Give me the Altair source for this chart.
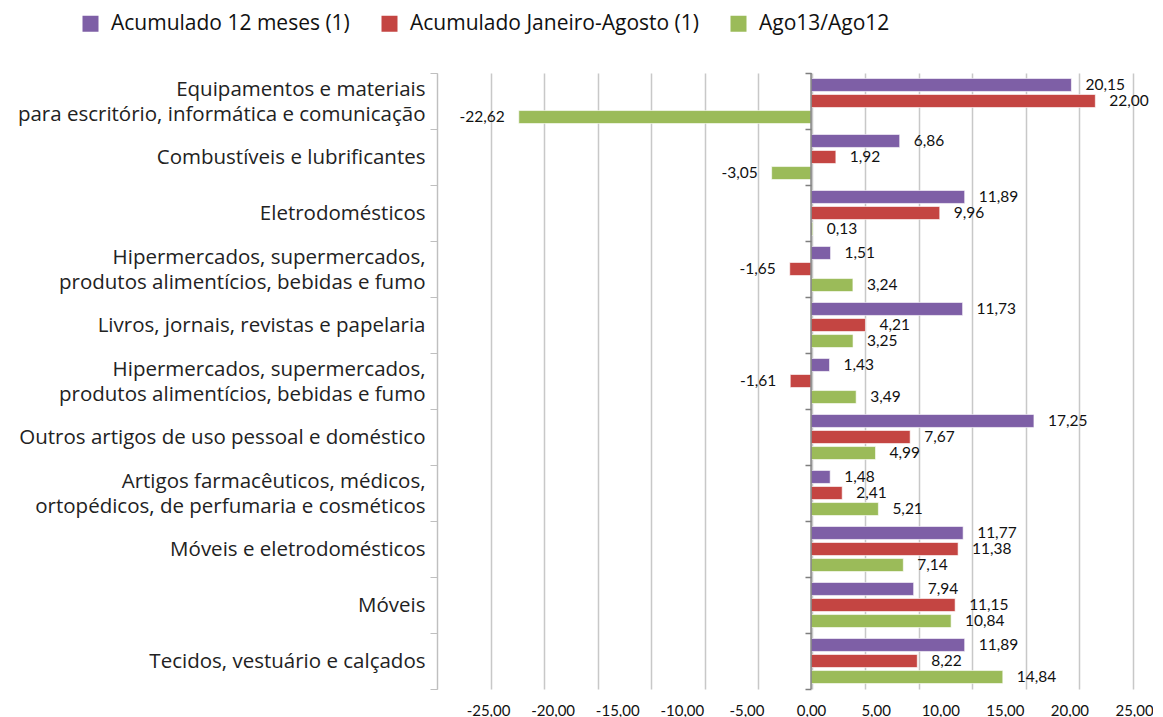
import altair as alt
import pandas as pd

FONT = "Lato"
CAT_FONT = "Open Sans"

categories = [
    "Equipamentos e materiais|para escritório, informática e comunicação",
    "Combustíveis e lubrificantes",
    "Eletrodomésticos",
    "Hipermercados, supermercados,|produtos alimentícios, bebidas e fumo",
    "Livros, jornais, revistas e papelaria",
    "Hipermercados, supermercados,|produtos alimentícios, bebidas e fumo\u200b",
    "Outros artigos de uso pessoal e doméstico",
    "Artigos farmacêuticos, médicos,|ortopédicos, de perfumaria e cosméticos",
    "Móveis e eletrodomésticos",
    "Móveis",
    "Tecidos, vestuário e calçados",
]
series = ["Acumulado 12 meses (1)", "Acumulado Janeiro-Agosto (1)", "Ago13/Ago12"]
acum_12 = [20.15, 6.86, 11.89, 1.51, 11.73, 1.43, 17.25, 1.48, 11.77, 7.94, 11.89]
acum_jan_ago = [22.00, 1.92, 9.96, -1.65, 4.21, -1.61, 7.67, 2.41, 11.38, 11.15, 8.22]
ago13_ago12 = [-22.62, -3.05, 0.13, 3.24, 3.25, 3.49, 4.99, 5.21, 7.14, 10.84, 14.84]
colors = ["#7E5FA6", "#C44542", "#9BBB59"]
zero_line = [0]

rows = []
for i, cat in enumerate(categories):
    for s, vals in zip(series, [acum_12, acum_jan_ago, ago13_ago12]):
        v = vals[i]
        rows.append({"cat": cat, "serie": s, "value": v,
                     "label": f"{v:.2f}".replace(".", ",")})
df = pd.DataFrame(rows)

y_scale = alt.Scale(paddingInner=0, paddingOuter=0)
x_main = alt.Scale(domain=[-28.95, 26.0], nice=False, zero=False)
yoff = alt.YOffset("serie:N", sort=series,
                   scale=alt.Scale(paddingInner=0.19, paddingOuter=0.34))

base = alt.Chart(df)

two_line_offset = {"condition": {"test": "isString(datum.value) && indexof(datum.value, '|') >= 0",
                                 "value": -12}, "value": 0}

bars = base.mark_bar(stroke="white", strokeOpacity=0.6, strokeWidth=1).encode(
    x=alt.X("value:Q", scale=x_main,
            axis=alt.Axis(title=None, grid=False, ticks=False, domain=False,
                          tickCount=11, labelFontSize=15, labelFont=FONT,
                          labelColor="#111", labelPadding=14,
                          labelExpr="(datum.value < 0 ? '-' : '') + replace(format(abs(datum.value), '.2f'), '.', ',')")),
    y=alt.Y("cat:N", sort=categories, scale=y_scale,
            axis=alt.Axis(orient="left", title=None,
                          labelExpr="isString(datum.value) ? split(datum.value, '|') : ''",
                          labelFontSize=20.5, labelFont=CAT_FONT, labelColor="#222",
                          labelLineHeight=25, labelLimit=600, labelPadding=5,
                          labelOffset=two_line_offset,
                          tickBand="extent", tickSize=7, tickColor="#BFBFBF",
                          domainColor="#BFBFBF")),
    yOffset=yoff,
    color=alt.Color("serie:N", sort=series,
                    scale=alt.Scale(domain=series, range=colors),
                    legend=alt.Legend(title=None, orient="none", legendX=-357,
                                      legendY=-60, direction="horizontal",
                                      symbolType="square", symbolSize=256,
                                      symbolStrokeWidth=0, labelFontSize=21,
                                      labelFont=CAT_FONT, labelColor="#111",
                                      labelLimit=0,
                                      columnPadding=29, labelOffset=10)),
)

zero = alt.Chart(pd.DataFrame({"zero": zero_line})).mark_rule(
    color="#7F7F7F", strokeWidth=1.5
).encode(x=alt.X("zero:Q", scale=x_main))

text_pos = base.transform_filter("datum.value >= 0").mark_text(
    align="left", baseline="middle", dx=14, fontSize=15.5, font=FONT, color="#111"
).encode(x=alt.X("value:Q", scale=x_main), y=alt.Y("cat:N", sort=categories, scale=y_scale),
         yOffset=yoff, text="label:N")

text_neg = base.transform_filter("datum.value < 0").mark_text(
    align="right", baseline="middle", dx=-14, fontSize=15.5, font=FONT, color="#111"
).encode(x=alt.X("value:Q", scale=x_main), y=alt.Y("cat:N", sort=categories, scale=y_scale),
         yOffset=yoff, text="label:N")

main = alt.layer(bars, zero, text_pos, text_neg)

grid = base.mark_point(opacity=0).encode(
    x=alt.X("value:Q", scale=alt.Scale(domain=[-7, 6.27], nice=False, zero=False),
            axis=alt.Axis(orient="top", title=None, grid=True, labels=False,
                          ticks=False, domain=False, tickCount=14,
                          gridColor="#C8C8C8", gridWidth=1.5)),
    y=alt.Y("cat:N", sort=categories, scale=y_scale,
            axis=alt.Axis(orient="left", offset=-374, title=None, labels=False,
                          grid=False, domain=False,
                          tickColor="#7F7F7F", tickBand="extent", tickSize=6,
                          tickWidth=1.5)),
)

chart = alt.layer(grid, main).resolve_scale(x="independent", y="independent").properties(
    width=710, height=616,
    padding={"left": 429, "top": 65, "right": 6, "bottom": 30},
    autosize=alt.AutoSizeParams(type="none"),
    background="white",
).configure_view(stroke=None)

chart.save("out.html", embed_options={"renderer": "svg", "actions": False})
